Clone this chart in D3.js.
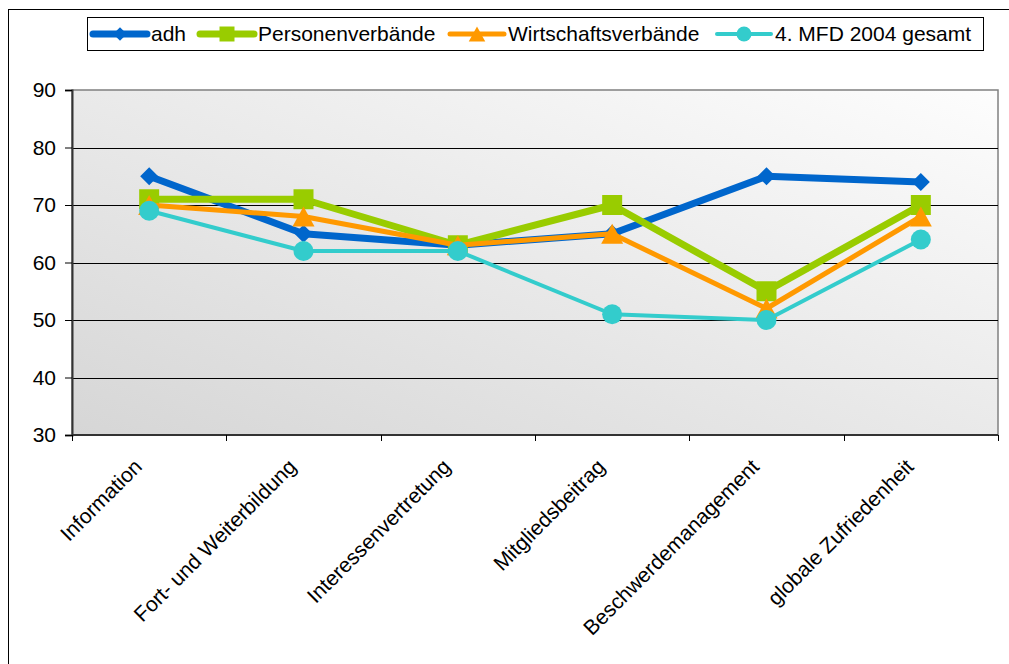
<!DOCTYPE html>
<html>
<head>
<meta charset="utf-8">
<script src="https://cdn.jsdelivr.net/npm/d3@7"></script>
<style>
  html, body { margin: 0; padding: 0; background: #fff; }
  svg { display: block; font-family: "Liberation Sans", Arial, sans-serif; }
</style>
</head>
<body>
<svg id="chart" width="1009" height="664"></svg>
<script>
// Categories and series values
const categories = ["Information", "Fort- und Weiterbildung", "Interessenvertretung", "Mitgliedsbeitrag", "Beschwerdemanagement", "globale Zufriedenheit"];
const adh = [75, 65, 63, 65, 75, 74];
const personenverbaende = [71, 71, 63, 70, 55, 70];
const wirtschaftsverbaende = [70, 68, 63, 65, 52, 68];
const mfd2004 = [69, 62, 62, 51, 50, 64];
const seriesNames = ["adh", "Personenverbände", "Wirtschaftsverbände", "4. MFD 2004 gesamt"];
const yTicks = [30, 40, 50, 60, 70, 80, 90];

const FONT = "Liberation Sans, Arial, sans-serif";
const FS = 21;

const series = [
  { name: seriesNames[0], values: adh, color: "#0066cc", width: 7, symbol: "diamond" },
  { name: seriesNames[1], values: personenverbaende, color: "#99cc00", width: 7, symbol: "square" },
  { name: seriesNames[2], values: wirtschaftsverbaende, color: "#ff9900", width: 5, symbol: "triangle" },
  { name: seriesNames[3], values: mfd2004, color: "#33cccc", width: 4, symbol: "circle" }
];

const svg = d3.select("#chart");
const plot = { left: 72, right: 998, top: 90, bottom: 435 };

// Outer frame
svg.append("rect").attr("x", 8.5).attr("y", 9.5).attr("width", 1100).attr("height", 700)
  .attr("fill", "none").attr("stroke", "#000").attr("stroke-width", 1);

// Plot background gradient
const defs = svg.append("defs");
const grad = defs.append("linearGradient").attr("id", "bg")
  .attr("x1", "0%").attr("y1", "100%").attr("x2", "100%").attr("y2", "0%");
grad.append("stop").attr("offset", "0%").attr("stop-color", "#d6d6d6");
grad.append("stop").attr("offset", "100%").attr("stop-color", "#fdfdfd");

const x = d3.scaleBand().domain(categories).range([plot.left, plot.right]).padding(0);
const y = d3.scaleLinear().domain([30, 90]).range([plot.bottom, plot.top]);
const cx = c => x(c) + x.bandwidth() / 2;

svg.append("rect")
  .attr("x", plot.left).attr("y", plot.top)
  .attr("width", plot.right - plot.left).attr("height", plot.bottom - plot.top)
  .attr("fill", "url(#bg)").attr("stroke", "#808080").attr("stroke-width", 1.5);

// Gridlines
svg.append("g").selectAll("line").data(yTicks.slice(1, -1)).join("line")
  .attr("x1", plot.left).attr("x2", plot.right)
  .attr("y1", d => Math.round(y(d)) + 0.5).attr("y2", d => Math.round(y(d)) + 0.5)
  .attr("stroke", "#000").attr("stroke-width", 1);

// Y axis
const yAxis = d3.axisLeft(y).tickValues(yTicks).tickSize(7).tickPadding(9);
const gy = svg.append("g").attr("transform", `translate(${plot.left},0)`).call(yAxis);
gy.attr("font-size", FS).attr("font-family", FONT);
gy.select(".domain").attr("stroke", "#333").attr("stroke-width", 2);
gy.selectAll(".tick line").attr("stroke", "#000");
gy.selectAll(".tick text").attr("fill", "#000");

// X axis: ticks at category boundaries
const gx = svg.append("g").attr("transform", `translate(0,${plot.bottom})`);
gx.append("line").attr("x1", plot.left).attr("x2", plot.right).attr("y1", 0).attr("y2", 0)
  .attr("stroke", "#333").attr("stroke-width", 2);
const boundaries = categories.map(c => x(c)).concat([plot.right]);
gx.selectAll("line.tk").data(boundaries).join("line").attr("class", "tk")
  .attr("x1", d => Math.round(d) + 0.5).attr("x2", d => Math.round(d) + 0.5)
  .attr("y1", 0).attr("y2", 6).attr("stroke", "#000");
gx.selectAll("text").data(categories).join("text")
  .attr("transform", d => `translate(${cx(d) - 6},${33}) rotate(-45)`)
  .attr("text-anchor", "end")
  .attr("font-size", FS).attr("font-family", FONT).attr("fill", "#000")
  .text(d => d);

// Marker shapes
function marker(sel, kind, scale) {
  const k = scale || 1;
  if (kind === "diamond") {
    const r = 9 * k;
    sel.attr("d", `M0,${-r}L${r},0L0,${r}L${-r},0Z`);
  } else if (kind === "square") {
    const h = 10 * k;
    sel.attr("d", `M${-h},${-h}H${h}V${h}H${-h}Z`);
  } else if (kind === "triangle") {
    const w = 11 * k, h = 10 * k;
    sel.attr("d", `M0,${-h}L${w},${h}L${-w},${h}Z`);
  } else {
    const r = 10 * k;
    sel.attr("d", `M${r},0A${r},${r} 0 1,1 ${-r},0A${r},${r} 0 1,1 ${r},0Z`);
  }
}

const line = d3.line()
  .x((d, i) => cx(categories[i]))
  .y(d => y(d));

series.forEach(s => {
  const g = svg.append("g");
  g.append("path").datum(s.values).attr("d", line)
    .attr("fill", "none").attr("stroke", s.color).attr("stroke-width", s.width)
    .attr("stroke-linejoin", "round");
  g.selectAll("path.m").data(s.values).join("path").attr("class", "m")
    .attr("transform", (d, i) => `translate(${cx(categories[i])},${y(d)})`)
    .call(marker, s.symbol, 1)
    .attr("fill", s.color);
});

// Legend
const legend = svg.append("g");
legend.append("rect").attr("x", 87.5).attr("y", 17.5).attr("width", 896).attr("height", 33)
  .attr("fill", "#fff").attr("stroke", "#000").attr("stroke-width", 1);
const legendX = [91, 198, 448, 715];
series.forEach((s, i) => {
  const lx = legendX[i], ly = 34;
  const g = legend.append("g");
  g.append("line").attr("x1", lx + 2).attr("x2", lx + 56).attr("y1", ly).attr("y2", ly)
    .attr("stroke", s.color).attr("stroke-width", s.width).attr("stroke-linecap", "round");
  g.append("path").attr("transform", `translate(${lx + 29},${ly})`)
    .call(marker, s.symbol, 0.75)
    .attr("fill", s.color);
  g.append("text").attr("x", lx + 60).attr("y", ly + 7).attr("font-size", FS)
    .attr("font-family", FONT).attr("fill", "#000")
    .text(s.name);
});
</script>
</body>
</html>
